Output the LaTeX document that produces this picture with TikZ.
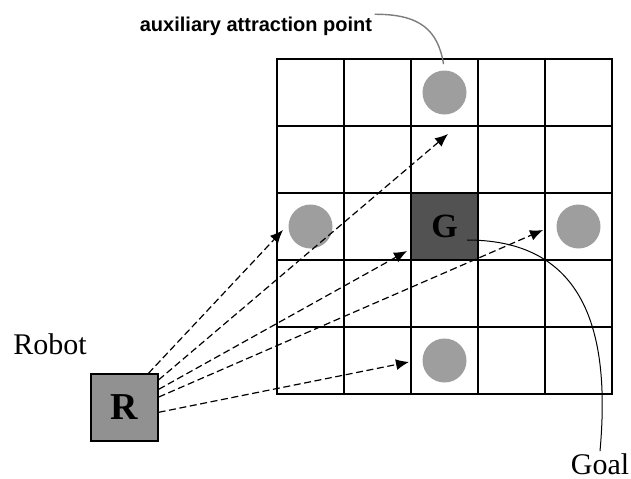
\documentclass[tikz,border=0pt]{standalone}
\usepackage{fontspec}
\setmainfont{Liberation Serif}
\newfontfamily\labelfont{Liberation Sans}
\usetikzlibrary{arrows.meta}
\definecolor{robotGray}{RGB}{145,145,145}
\definecolor{goalGray}{RGB}{82,82,82}
\definecolor{auxGray}{RGB}{158,158,158}
\definecolor{leaderGray}{RGB}{125,125,125}
\tikzset{
  cell/.style={draw=black, line width=1pt, minimum size=33.5pt, inner sep=0pt, outer sep=0pt},
  goalcell/.style={cell, fill=goalGray, font=\bfseries\fontsize{17}{17}\selectfont},
  robotbox/.style={draw=black, line width=0.6pt, fill=robotGray, minimum size=33.5pt, inner sep=0pt, font=\bfseries\fontsize{19}{19}\selectfont},
  auxpoint/.style={circle, fill=auxGray, minimum size=22pt, inner sep=0pt},
  plainlabel/.style={font=\fontsize{15}{15}\selectfont, inner sep=1pt},
  auxlabel/.style={font=\labelfont\bfseries\fontsize{10}{10}\selectfont, inner sep=1pt},
  pathflow/.style={-{Latex[length=6.5pt,width=5.5pt]}, line width=0.6pt, dash pattern=on 3.5pt off 1.8pt, draw=black},
  leader/.style={line width=0.5pt}
}

\begin{document}
\begin{tikzpicture}[x=0.5pt, y=-0.5pt]
        \useasboundingbox (0,0) rectangle (631,478);
        % grid of cells
        \foreach \i in {0,...,4}
          \foreach \j in {0,...,4}
            \node[cell] (c\i\j) at ({310.5+67*\i}, {92.5+67*\j}) {};
        \node[goalcell] (goal) at (c22) {G};
        % auxiliary attraction points
        \node[auxpoint] (aux-top) at (c20) {};
        \node[auxpoint] (aux-left) at (c02) {};
        \node[auxpoint] (aux-right) at (c42) {};
        \node[auxpoint] (aux-bottom) at (c24) {};
        % robot
        \node[robotbox] (robot) at (124.5,407.5) {R};
        \node[plainlabel] (robotlabel) at (50,344) {Robot};
        \node[plainlabel] (goallabel) at (600,464) {Goal};
        \node[auxlabel] (auxtext) at (256,26) {auxiliary attraction point};
        % arrow ends
        \coordinate (tip-left) at (283,230);
        \coordinate (tip-top) at (448,134);
        \coordinate (tip-goal) at (407,251);
        \coordinate (tip-right) at (543,230);
        \coordinate (tip-bottom) at (409,362);
        \draw[pathflow] (robot.55) -- (tip-left);
        \draw[pathflow] (robot.39) -- (tip-top);
        \draw[pathflow] (robot.28) -- (tip-goal);
        \draw[pathflow] (robot.17) -- (tip-right);
        \draw[pathflow] (robot.-8) -- (tip-bottom);
        % leaders
        \coordinate (gstart) at (467,240);
        \draw[leader] (gstart) .. controls (590,240) and (610,340) .. (goallabel.north);
        \draw[leader, draw=leaderGray, line width=0.7pt, shorten >=3pt] (auxtext.north east) .. controls (420,14) and (438,30) .. (aux-top.north);
      \end{tikzpicture}
\end{document}
